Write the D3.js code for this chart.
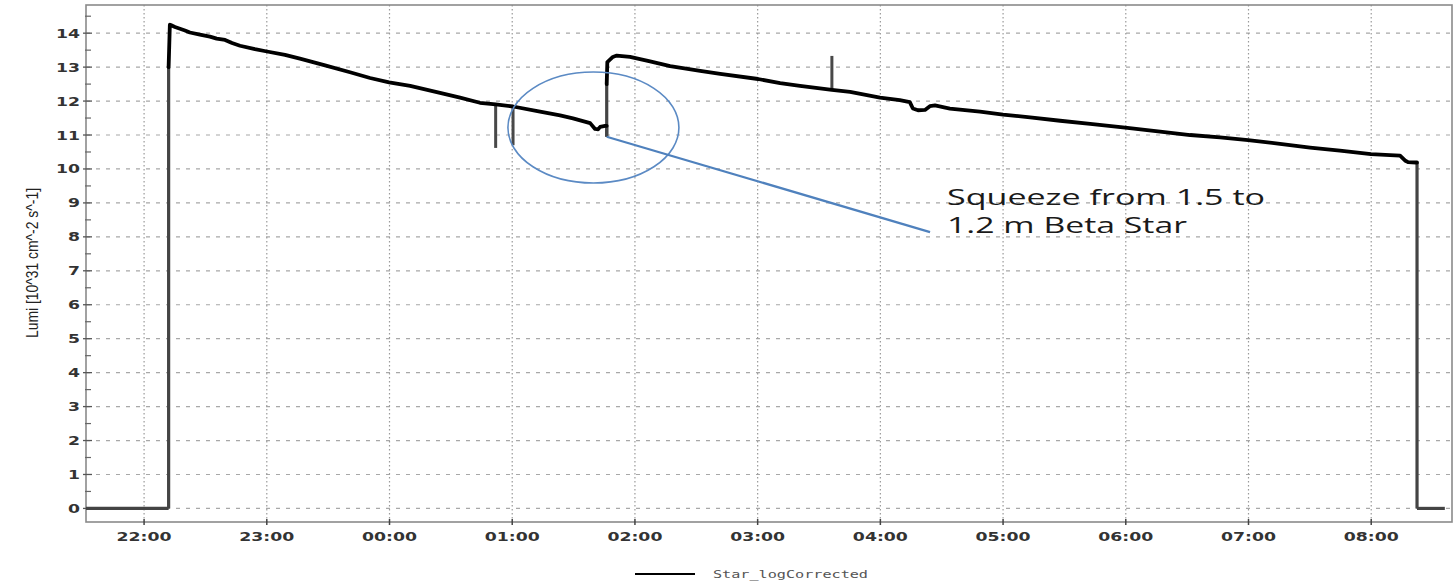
<!DOCTYPE html>
<html>
<head>
<meta charset="utf-8">
<script src="https://cdn.jsdelivr.net/npm/d3@7"></script>
<style>
  html, body { margin: 0; padding: 0; background: #fff; }
  svg { display: block; }
</style>
</head>
<body>
<svg id="chart" width="1453" height="583"></svg>
<script>
// ---- DATA (time = minutes after 22:00, value = Lumi in 10^31 cm^-2 s^-1) ----
const timeMin = [
  -28.4, 12.0, 12.0, 12.6, 13.0, 15.1, 20.0, 22.4, 27.3, 32.2, 35.5, 39.6, 43.0, 46.9,
  54.2, 60.1, 68.9, 76.2, 88.5, 100.7, 110.5, 119.8, 130.1, 144.7, 154.5, 164.2, 171.9,
  180.4, 193.6, 203.4, 209.7, 218.1, 220.5, 222.0, 223.0, 225.4, 226.2, 226.2, 226.2,
  226.5, 229.2, 231.1, 237.6, 247.4, 257.2, 271.9, 281.7, 300.2, 311.0, 320.7, 336.3,
  345.2, 359.8, 369.5, 374.4, 375.9, 378.4, 381.8, 384.2, 386.7, 394.0, 408.7, 420.0,
  433.2, 447.9, 462.6, 479.7, 496.8, 511.5, 526.1, 539.8, 555.4, 570.1, 584.7, 599.9,
  609.2, 614.1, 616.5, 618.0, 621.9, 622.4, 622.4, 636.0
];
const lumi = [
  0, 0, 13.0, 14.25, 14.24, 14.18, 14.08, 14.02, 13.96, 13.9, 13.84, 13.8, 13.71, 13.63,
  13.53, 13.46, 13.36, 13.25, 13.05, 12.85, 12.68, 12.55, 12.45, 12.24, 12.1, 11.95, 11.9,
  11.84, 11.69, 11.58, 11.49, 11.35, 11.18, 11.17, 11.24, 11.27, 11.27, 10.95, 12.5,
  13.15, 13.3, 13.34, 13.3, 13.17, 13.03, 12.89, 12.8, 12.65, 12.53, 12.45, 12.33,
  12.27, 12.1, 12.03, 11.97, 11.78, 11.73, 11.74, 11.85, 11.87, 11.78, 11.69, 11.6,
  11.52, 11.42, 11.33, 11.22, 11.1, 11.0, 10.93, 10.85, 10.74, 10.63, 10.54, 10.44,
  10.41, 10.39, 10.25, 10.2, 10.19, 10.19, 0, 0
];
// short glitches in the logged value
const spikeMin  = [171.9, 180.4, 336.3];
const spikeBase = [11.9, 11.84, 12.33];
const spikeTip  = [10.62, 10.7, 13.33];

const xTickLabels = ["22:00","23:00","00:00","01:00","02:00","03:00","04:00","05:00","06:00","07:00","08:00"];
const yTickValues = [0,1,2,3,4,5,6,7,8,9,10,11,12,13,14];
const seriesName = "Star_logCorrected";
const yTitle = "Lumi [10^31 cm^-2 s^-1]";
const noteLines = ["Squeeze from 1.5 to", "1.2 m Beta Star"];
const noteCircle = { min: 219.7, value: 11.22 };
const noteFrom = { min: 226.2, value: 10.95 };
const noteTo = { min: 384.3, value: 8.14 };
const noteText = { min: 392.6, value: 8.94 };

// ---- helpers ----
const base = new Date(2012, 3, 5, 22, 0, 0);
const toDate = m => new Date(base.getTime() + m * 60000);
const labelToMin = s => { const h = +s.slice(0, 2); return (h >= 20 ? h - 22 : h + 2) * 60; };

const svg = d3.select("#chart");
const L = 86, R = 1452, T = 5, B = 522;

const x = d3.scaleTime().domain([toDate(-28.4), toDate(639.5)]).range([L, R]);
const y = d3.scaleLinear().domain([-0.4, 14.83]).range([B, T]);

const pts = timeMin.map((m, i) => ({ t: toDate(m), m, v: lumi[i] }));

// ---- grid ----
const g = svg.append("g");
g.selectAll(".hg").data(yTickValues).join("line")
  .attr("x1", L).attr("x2", R)
  .attr("y1", d => y(d)).attr("y2", d => y(d))
  .attr("stroke", "#a8a8a8").attr("stroke-width", 1.2).attr("stroke-dasharray", "4,6");
const xTickDates = xTickLabels.map(s => toDate(labelToMin(s)));
g.selectAll(".vg").data(xTickDates).join("line")
  .attr("x1", d => x(d)).attr("x2", d => x(d))
  .attr("y1", T).attr("y2", B)
  .attr("stroke", "#9a9a9a").attr("stroke-width", 1.2).attr("stroke-dasharray", "1.5,2.5");

// ---- frame ----
svg.append("rect").attr("x", L).attr("y", T).attr("width", R - L).attr("height", B - T)
  .attr("fill", "none").attr("stroke", "#8a8a8a").attr("stroke-width", 1.6);

// ---- y ticks ----
const yMinor = yTickValues.map(v => v + 0.5);
svg.append("g").selectAll("line").data(yTickValues).join("line")
  .attr("x1", L - 3).attr("x2", L + 6).attr("y1", d => y(d)).attr("y2", d => y(d))
  .attr("stroke", "#555").attr("stroke-width", 1.3);
svg.append("g").selectAll("line").data(yMinor).join("line")
  .attr("x1", L - 1).attr("x2", L + 5).attr("y1", d => y(d)).attr("y2", d => y(d))
  .attr("stroke", "#666").attr("stroke-width", 1.2);
svg.append("g").selectAll("text").data(yTickValues).join("text")
  .attr("x", L - 6).attr("y", d => y(d) + 4.5)
  .attr("text-anchor", "end")
  .attr("font-family", "DejaVu Sans").attr("font-weight", "bold").attr("font-size", 12)
  .attr("fill", "#333")
  .attr("textLength", d => String(d).length === 1 ? 12 : 24)
  .attr("lengthAdjust", "spacingAndGlyphs")
  .text(d => d);

// ---- x ticks ----
svg.append("g").selectAll("line").data(xTickDates).join("line")
  .attr("x1", d => x(d)).attr("x2", d => x(d)).attr("y1", B - 3).attr("y2", B + 3)
  .attr("stroke", "#444").attr("stroke-width", 1.5);
svg.append("g").selectAll("text").data(xTickLabels).join("text")
  .attr("x", d => x(toDate(labelToMin(d)))).attr("y", 541)
  .attr("text-anchor", "middle")
  .attr("font-family", "DejaVu Sans").attr("font-weight", "bold").attr("font-size", 12)
  .attr("fill", "#333")
  .attr("textLength", 55).attr("lengthAdjust", "spacingAndGlyphs")
  .text(d => d);

// ---- y title ----
svg.append("text")
  .attr("transform", "translate(38,263) rotate(-90)")
  .attr("text-anchor", "middle")
  .attr("font-family", "Liberation Sans").attr("font-size", 16)
  .attr("fill", "#222")
  .attr("textLength", 150).attr("lengthAdjust", "spacingAndGlyphs")
  .text(yTitle);

// ---- series ----
const line = d3.line().x(d => x(d.t)).y(d => y(d.v));
// gray vertical jumps / zero baseline, black trend
const segsGray = [], runs = [];
let cur = [pts[0]];
for (let i = 1; i < pts.length; i++) {
  const a = pts[i - 1], b = pts[i];
  const gray = (a.m === b.m) || (a.v === 0 && b.v === 0);
  if (gray) {
    segsGray.push([a, b]);
    if (cur.length > 1) runs.push(cur);
    cur = [b];
  } else {
    cur.push(b);
  }
}
if (cur.length > 1) runs.push(cur);

svg.append("g").selectAll("path").data(segsGray).join("path")
  .attr("d", line).attr("fill", "none")
  .attr("stroke", "#444").attr("stroke-width", 3.2);

const spikes = spikeMin.map((m, i) => [{ t: toDate(m), v: spikeBase[i] }, { t: toDate(m), v: spikeTip[i] }]);
svg.append("g").selectAll("path").data(spikes).join("path")
  .attr("d", line).attr("fill", "none")
  .attr("stroke", "#484848").attr("stroke-width", 3);

svg.append("g").selectAll("path").data(runs).join("path")
  .attr("d", line).attr("fill", "none")
  .attr("stroke", "#000").attr("stroke-width", 3.8)
  .attr("stroke-linejoin", "round").attr("stroke-linecap", "round");

// ---- annotation ----
svg.append("ellipse")
  .attr("cx", x(toDate(noteCircle.min))).attr("cy", y(noteCircle.value))
  .attr("rx", 85.5).attr("ry", 55.5)
  .attr("fill", "none").attr("stroke", "#5b8ac4").attr("stroke-width", 1.6);
svg.append("line")
  .attr("x1", x(toDate(noteFrom.min))).attr("y1", y(noteFrom.value))
  .attr("x2", x(toDate(noteTo.min))).attr("y2", y(noteTo.value))
  .attr("stroke", "#4f81bd").attr("stroke-width", 2.2);
const nt = svg.append("g").attr("font-family", "Open Sans").attr("font-size", 21).attr("fill", "#1a1a1a");
nt.append("text").attr("x", x(toDate(noteText.min))).attr("y", y(noteText.value))
  .attr("textLength", 318).attr("lengthAdjust", "spacingAndGlyphs").text(noteLines[0]);
nt.append("text").attr("x", x(toDate(noteText.min))).attr("y", y(noteText.value) + 28)
  .attr("textLength", 240).attr("lengthAdjust", "spacingAndGlyphs").text(noteLines[1]);

// ---- legend ----
svg.append("line").attr("x1", 635).attr("x2", 695).attr("y1", 574).attr("y2", 574)
  .attr("stroke", "#000").attr("stroke-width", 2);
svg.append("text").attr("x", 713).attr("y", 578)
  .attr("font-family", "DejaVu Sans Mono").attr("font-size", 10).attr("fill", "#555")
  .attr("textLength", 155).attr("lengthAdjust", "spacingAndGlyphs")
  .text(seriesName);
</script>
</body>
</html>
